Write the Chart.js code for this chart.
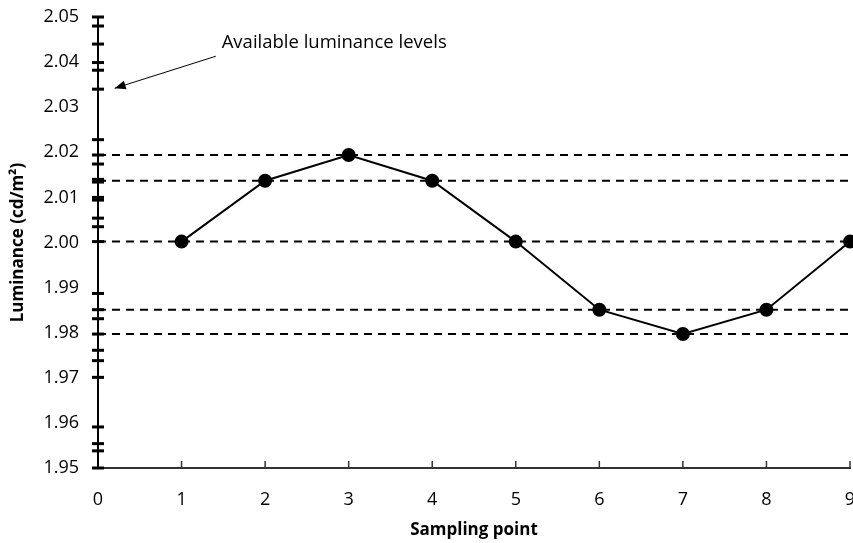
<!DOCTYPE html>
<html>
<head>
<meta charset="utf-8">
<script src="https://cdn.jsdelivr.net/npm/chart.js@4.4.1/dist/chart.umd.min.js"></script>
<style>
  html, body { margin: 0; padding: 0; background: #fff; overflow: hidden; width: 853px; height: 543px; }
  #wrap { position: absolute; left: 0; top: 0; width: 860px; height: 543px; }
</style>
</head>
<body>
<div id="wrap"><canvas id="c" width="860" height="543"></canvas></div>
<script>
// ---- data ----
const samplePoints = [1, 2, 3, 4, 5, 6, 7, 8, 9];
const luminance = [2.0002, 2.0137, 2.0194, 2.0137, 2.0002, 1.9851, 1.9797, 1.9851, 2.0002];
const availableLevels = [2.0500, 2.0480, 2.0440, 2.0399, 2.0382, 2.0340, 2.0228, 2.0194, 2.0174,
  2.0140, 2.0134, 2.0100, 2.0094, 2.0054, 2.0035, 2.0002, 1.9887, 1.9851, 1.9831, 1.9797,
  1.9761, 1.9738, 1.9701, 1.9591, 1.9554, 1.9538, 1.9500];
const referenceLevels = [2.0194, 2.0137, 2.0002, 1.9851, 1.9797];
const xRange = [0, 9];
const yRange = [1.95, 2.05];
const annotationText = 'Available luminance levels';
const xTitle = 'Sampling point';
const yTitle = 'Luminance (cd/m\u00B2)';

const FONT = "'Open Sans', 'Liberation Sans', sans-serif";

const datasets = [];
referenceLevels.forEach(v => {
  datasets.push({
    type: 'line',
    data: [{x: xRange[0], y: v}, {x: xRange[1] + 0.2, y: v}],
    borderColor: '#000', borderWidth: 2, borderDash: [8, 6],
    pointRadius: 0, fill: false, clip: false, order: 3
  });
});
datasets.push({
  type: 'line',
  data: samplePoints.map((x, i) => ({x, y: luminance[i]})),
  borderColor: '#000', borderWidth: 2,
  pointRadius: 6, pointBackgroundColor: '#000', pointBorderColor: '#000',
  fill: false, clip: false, order: 1
});
datasets.push({
  type: 'scatter',
  data: availableLevels.map(v => ({x: xRange[0], y: v})),
  pointStyle: 'line', pointRadius: 6, borderWidth: 3,
  borderColor: '#000', backgroundColor: '#000', clip: false, order: 2
});

const extras = {
  id: 'extras',
  afterDraw(chart) {
    const ctx = chart.ctx, xs = chart.scales.x, ys = chart.scales.y;
    ctx.save();
    // upward x tick marks
    ctx.strokeStyle = '#333'; ctx.lineWidth = 1.5;
    const yb = ys.getPixelForValue(yRange[0]);
    for (let v = xRange[0] + 1; v <= xRange[1]; v++) {
      const px = xs.getPixelForValue(v);
      ctx.beginPath(); ctx.moveTo(px, yb); ctx.lineTo(px, yb - 7); ctx.stroke();
    }
    // annotation arrow
    const tx = xs.getPixelForValue(0.2), ty = ys.getPixelForValue(2.0342);
    const sx = xs.getPixelForValue(1.41), sy = ys.getPixelForValue(2.0413);
    ctx.strokeStyle = '#000'; ctx.lineWidth = 1;
    ctx.beginPath(); ctx.moveTo(sx, sy); ctx.lineTo(tx, ty); ctx.stroke();
    const ang = Math.atan2(ty - sy, tx - sx);
    const L = 11, W = 4.5;
    ctx.fillStyle = '#000';
    ctx.beginPath();
    ctx.moveTo(tx, ty);
    ctx.lineTo(tx - L * Math.cos(ang) + W * Math.sin(ang), ty - L * Math.sin(ang) - W * Math.cos(ang));
    ctx.lineTo(tx - L * Math.cos(ang) - W * Math.sin(ang), ty - L * Math.sin(ang) + W * Math.cos(ang));
    ctx.closePath(); ctx.fill();
    ctx.font = '18.5px ' + FONT;
    ctx.textAlign = 'left'; ctx.textBaseline = 'middle';
    ctx.fillText(annotationText, xs.getPixelForValue(1.48), ys.getPixelForValue(2.0444));
    ctx.restore();
  }
};

new Chart(document.getElementById('c'), {
  data: { datasets },
  options: {
    responsive: false, animation: false,
    layout: { padding: { left: 0, right: 10, top: 17, bottom: 0 } },
    plugins: { legend: { display: false }, tooltip: { enabled: false } },
    scales: {
      x: {
        type: 'linear', min: xRange[0], max: xRange[1],
        afterFit(scale) { scale.height = 75; },
        grid: { display: true, drawOnChartArea: false, drawTicks: true, tickLength: 21, color: 'rgba(0,0,0,0)' },
        border: { display: true, color: '#333', width: 2 },
        ticks: { stepSize: 1, color: '#000', font: { family: FONT, size: 18 }, padding: 0 },
        title: { display: true, text: xTitle, color: '#000', font: { family: FONT, size: 17, weight: 'bold' }, padding: { top: 4, bottom: 3 } }
      },
      y: {
        type: 'linear', min: yRange[0], max: yRange[1],
        afterFit(scale) { scale.width = 98; },
        grid: { display: true, drawOnChartArea: false, drawTicks: true, tickLength: 19, color: 'rgba(0,0,0,0)' },
        border: { display: true, color: '#000', width: 2 },
        ticks: { stepSize: 0.01, color: '#000', font: { family: FONT, size: 18 }, padding: 0,
                 callback: v => Number(v).toFixed(2) },
        title: { display: true, text: yTitle, color: '#000', font: { family: FONT, size: 17, weight: 'bold' }, padding: { top: 8, bottom: 0 } }
      }
    }
  },
  plugins: [extras]
});
</script>
</body>
</html>
